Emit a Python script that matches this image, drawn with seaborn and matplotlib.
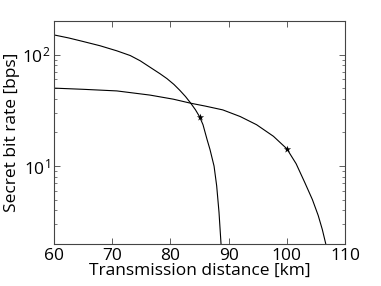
import matplotlib
matplotlib.use("Agg")
import matplotlib.pyplot as plt
import seaborn as sns
import pandas as pd
from matplotlib.ticker import LogLocator, NullFormatter

# Curve A (steep drop near 89 km)
dist_a = [60, 62.5, 65, 67.9, 70.8, 73.1, 74.8, 76.5, 78.2, 79.4, 80.6, 81.6, 82.6, 83.5, 84.3, 85, 85.6, 86.3, 86.8, 87.5, 87.95, 88.35, 88.7]
rate_a = [150, 141, 131, 120, 108, 98, 88, 77, 67.4, 60.9, 54, 47.9, 42, 36.6, 32, 27.8, 23.5, 17.3, 14.1, 10.0, 6.65, 3.86, 2.0]
# Curve B (drop near 107 km)
dist_b = [60, 65, 70.8, 76.5, 80.5, 83.5, 86, 89, 92, 94.8, 97.7, 100, 101.6, 103.1, 104.4, 105.4, 106.1, 106.7]
rate_b = [50, 48.8, 47.2, 43.3, 39.8, 36.6, 34.5, 31.9, 27.8, 23.5, 18.5, 14.3, 10.5, 7.1, 5.0, 3.6, 2.7, 2.0]
# Marked points
mark_x = [85, 100]
mark_y = [27.8, 14.3]

sns.set_style("ticks")
plt.rcParams['font.family'] = ['Open Sans', 'DejaVu Sans']
plt.rcParams['mathtext.fontset'] = 'custom'
plt.rcParams['mathtext.rm'] = 'Open Sans'
plt.rcParams['text.color'] = 'black'
plt.rcParams['axes.labelcolor'] = 'black'
plt.rcParams['xtick.labelcolor'] = 'black'
plt.rcParams['ytick.labelcolor'] = 'black'

df = pd.concat([
    pd.DataFrame({"x": dist_a, "y": rate_a, "c": "a"}),
    pd.DataFrame({"x": dist_b, "y": rate_b, "c": "b"}),
])

fig = plt.figure(figsize=(3.81, 2.86), dpi=100)
ax = fig.add_axes([54/381, 1-244/286, (345-54)/381, (244-21)/286])
sns.lineplot(data=df, x="x", y="y", units="c", estimator=None, sort=False,
             color="black", linewidth=0.8, ax=ax)
sns.scatterplot(x=mark_x, y=mark_y, marker="*", color="black", s=30,
                linewidth=0, ax=ax, zorder=3)

ax.set_yscale("log")
ax.set_xlim(60, 110)
ax.set_ylim(2, 200)
ax.set_xticks([60, 70, 80, 90, 100, 110])
ax.yaxis.set_major_locator(LogLocator(base=10, numticks=10))
ax.yaxis.set_minor_locator(LogLocator(base=10, subs=range(2, 10), numticks=10))
ax.yaxis.set_minor_formatter(NullFormatter())
ax.tick_params(which="both", direction="in", top=True, right=True,
               labelsize=12.5, color="#444444")
ax.tick_params(which="major", length=4, width=0.6, pad=3)
ax.tick_params(which="minor", length=2, width=0.5)
for s in ax.spines.values():
    s.set_linewidth(0.8)
    s.set_color("#444444")
ax.set_xlabel("Transmission distance [km]", fontsize=12.5, labelpad=-1)
ax.set_ylabel("Secret bit rate [bps]", fontsize=12.5, labelpad=1)

fig.savefig("out.png", dpi=100)
